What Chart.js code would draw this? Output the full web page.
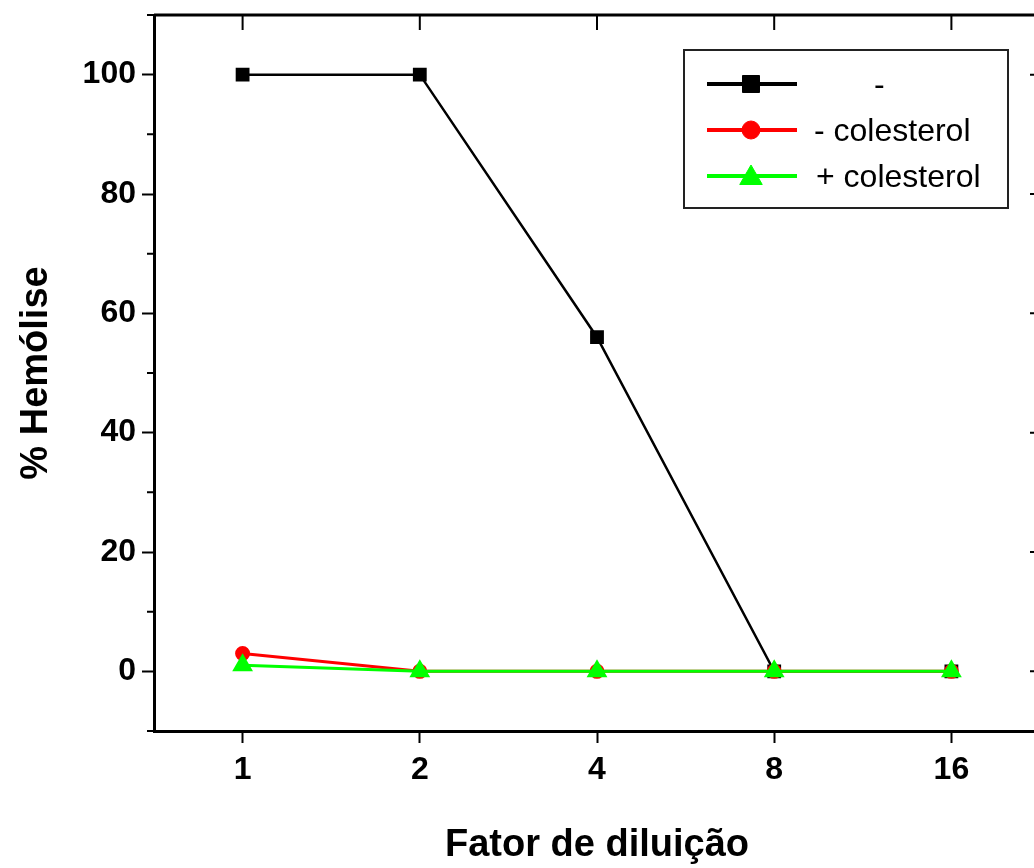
<!DOCTYPE html>
<html>
<head>
<meta charset="utf-8">
<script src="https://cdn.jsdelivr.net/npm/chart.js@4/dist/chart.umd.min.js"></script>
<style>
html, body { margin: 0; padding: 0; background: #fff; overflow: hidden; }
canvas { display: block; }
</style>
</head>
<body>
<canvas id="hemolise" width="1052" height="868"></canvas>
<script>
var fatores = ['1', '2', '4', '8', '16'];
var semTratamento = [100, 100, 56, 0, 0];
var semColesterol = [3, 0, 0, 0, 0];
var comColesterol = [1, 0, 0, 0, 0];
var legendas = ['-', '- colesterol', '+ colesterol'];
var yMarcas = [0, 20, 40, 60, 80, 100];

var FONTE = 'Arial, "Liberation Sans", sans-serif';

// top and right frame lines plus inward ticks, minor ticks on the left
var moldura = {
  id: 'moldura',
  afterDraw: function(chart) {
    var ctx = chart.ctx, a = chart.chartArea;
    var sx = chart.scales.x, sy = chart.scales.y;
    ctx.save();
    ctx.strokeStyle = '#000';
    ctx.lineWidth = 3;
    ctx.beginPath();
    ctx.moveTo(a.left, a.top);
    ctx.lineTo(a.right + 2, a.top);
    ctx.moveTo(a.right, a.top);
    ctx.lineTo(a.right, a.bottom);
    ctx.stroke();
    ctx.lineWidth = 2;
    ctx.beginPath();
    sx.ticks.forEach(function(t, i) {
      var px = sx.getPixelForTick(i);
      ctx.moveTo(px, a.top);
      ctx.lineTo(px, a.top + 15);
    });
    sy.ticks.forEach(function(t) {
      var py = sy.getPixelForValue(t.value);
      var maior = yMarcas.indexOf(t.value) >= 0;
      if (!maior) {
        ctx.moveTo(a.left, py);
        ctx.lineTo(a.left - 7, py);
      }
      ctx.moveTo(a.right, py);
      ctx.lineTo(a.right - (maior ? 10 : 5), py);
    });
    ctx.stroke();
    ctx.restore();
  }
};

var legenda = {
  id: 'legenda',
  afterDraw: function(chart) {
    var ctx = chart.ctx;
    var textoX = [874, 814, 816];
    var raio = [12, 9, 13];
    ctx.save();
    ctx.strokeStyle = '#222';
    ctx.lineWidth = 2;
    ctx.strokeRect(684, 50, 324, 158);
    ctx.font = '32px ' + FONTE;
    ctx.textBaseline = 'middle';
    chart.data.datasets.forEach(function(ds, i) {
      var cy = 84 + i * 46;
      ctx.strokeStyle = ds.borderColor;
      ctx.lineWidth = 4;
      ctx.beginPath();
      ctx.moveTo(707, cy);
      ctx.lineTo(797, cy);
      ctx.stroke();
      ctx.fillStyle = ds.pointBackgroundColor;
      ctx.lineWidth = 1;
      Chart.helpers.drawPoint(ctx, { pointStyle: ds.pointStyle, radius: raio[i], rotation: 0, borderWidth: 1 }, 751, cy + (i === 2 ? 2 : 0));
      ctx.fillStyle = '#000';
      ctx.fillText(legendas[i], textoX[i], cy + 2);
    });
    ctx.restore();
  }
};

new Chart(document.getElementById('hemolise'), {
  type: 'line',
  data: {
    labels: fatores,
    datasets: [{
      label: legendas[0],
      data: semTratamento,
      borderColor: '#000',
      backgroundColor: '#000',
      pointBackgroundColor: '#000',
      pointStyle: 'rect',
      pointRadius: 8,
      borderWidth: 2.5,
      order: 2
    }, {
      label: legendas[1],
      data: semColesterol,
      borderColor: '#ff0000',
      backgroundColor: '#ff0000',
      pointBackgroundColor: '#ff0000',
      pointStyle: 'circle',
      pointRadius: 6,
      borderWidth: 3,
      order: 1
    }, {
      label: legendas[2],
      data: comColesterol,
      borderColor: '#00ff00',
      backgroundColor: '#00ff00',
      pointBackgroundColor: '#00ff00',
      pointStyle: 'triangle',
      pointRadius: 9,
      borderWidth: 3,
      order: 0
    }]
  },
  options: {
    responsive: false,
    animation: false,
    layout: { padding: { top: 15, right: 2, left: 0, bottom: 0 } },
    plugins: {
      legend: { display: false },
      tooltip: { enabled: false }
    },
    scales: {
      x: {
        type: 'category',
        offset: true,
        afterFit: function(s) { s.height = 137; s.paddingLeft = 0; s.paddingRight = 0; },
        border: { display: true, color: '#000', width: 3 },
        grid: { offset: false, drawOnChartArea: false, drawTicks: true, tickLength: 12, tickWidth: 2, tickColor: '#000' },
        ticks: { color: '#000', padding: 8, font: { family: FONTE, size: 32, weight: 'bold' } },
        title: {
          display: true,
          text: 'Fator de diluição',
          color: '#000',
          padding: { top: 0, bottom: 0 },
          font: { family: FONTE, size: 38, weight: 'bold' }
        }
      },
      y: {
        min: -10,
        max: 110,
        afterFit: function(s) { s.width = 154; s.paddingTop = 0; s.paddingBottom = 0; },
        border: { display: true, color: '#000', width: 3 },
        grid: {
          drawOnChartArea: false,
          drawTicks: true,
          tickLength: 12,
          tickWidth: 2,
          tickColor: function(c) { return yMarcas.indexOf(c.tick.value) >= 0 ? '#000' : 'rgba(0,0,0,0)'; }
        },
        ticks: {
          stepSize: 10,
          color: '#000',
          padding: 6,
          font: { family: FONTE, size: 32, weight: 'bold' },
          callback: function(v) { return yMarcas.indexOf(v) >= 0 ? String(v) : ''; }
        },
        title: {
          display: true,
          text: '% Hemólise',
          color: '#000',
          padding: { top: 14, bottom: 0 },
          font: { family: FONTE, size: 38, weight: 'bold' }
        }
      }
    }
  },
  plugins: [moldura, legenda]
});
</script>
</body>
</html>
